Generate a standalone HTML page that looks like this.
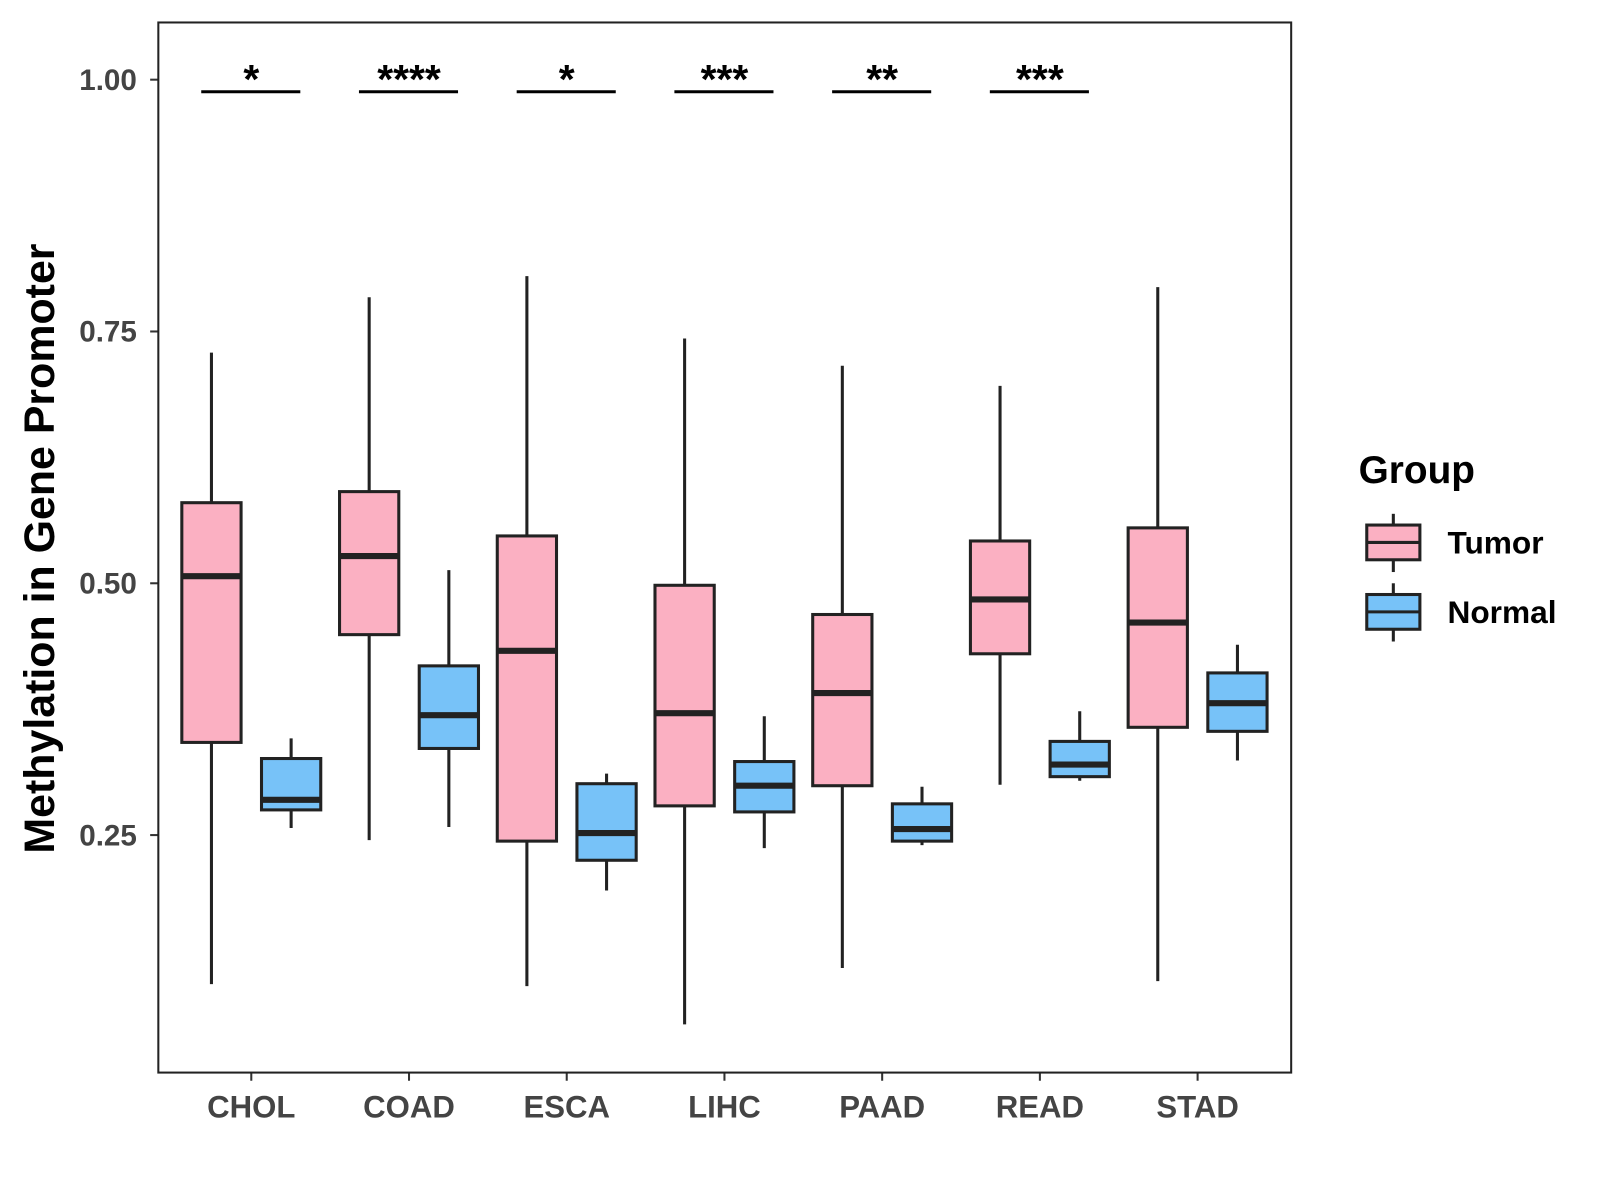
<!DOCTYPE html>
<html><head><meta charset="utf-8"><style>
html,body{margin:0;padding:0;background:#fff;}
svg{display:block;font-family:"Liberation Sans",Arial,sans-serif;}
</style></head><body>
<svg id="chart" width="1600" height="1200" viewBox="0 0 1600 1200">
<rect x="0" y="0" width="1600" height="1200" fill="#fff"/>
<g transform="scale(1.0215)">
<g id="plot"></g>
<rect x="155" y="22" width="1109" height="1028" fill="none" stroke="#222" stroke-width="2"/>
<text x="0" y="0" transform="translate(53,537) rotate(-90)" text-anchor="middle" font-size="42" font-weight="bold" fill="#000">Methylation in Gene Promoter</text>
<g>
<text x="1330" y="473" font-size="38" font-weight="bold" fill="#000">Group</text>
<g>
<line x1="1364" y1="503" x2="1364" y2="560" stroke="#222" stroke-width="3"/>
<rect x="1338" y="514" width="52" height="34" fill="#FBB0C2" stroke="#222" stroke-width="3"/>
<line x1="1338" y1="531" x2="1390" y2="531" stroke="#222" stroke-width="3"/>
<text x="1417" y="542" font-size="31" font-weight="bold" fill="#000">Tumor</text>
</g>
<g>
<line x1="1364" y1="571" x2="1364" y2="628" stroke="#222" stroke-width="3"/>
<rect x="1338" y="582" width="52" height="34" fill="#77C2F8" stroke="#222" stroke-width="3"/>
<line x1="1338" y1="599" x2="1390" y2="599" stroke="#222" stroke-width="3"/>
<text x="1417" y="610" font-size="31" font-weight="bold" fill="#000">Normal</text>
</g>
</g>
</g>
</svg>
<script>
const categories = ["CHOL","COAD","ESCA","LIHC","PAAD","READ","STAD"];
// [low, q1, median, q3, high]
const tumorStats = [
 [0.102,0.342,0.507,0.580,0.729],
 [0.245,0.449,0.527,0.591,0.784],
 [0.100,0.244,0.433,0.547,0.805],
 [0.062,0.279,0.371,0.498,0.743],
 [0.118,0.299,0.391,0.469,0.716],
 [0.300,0.430,0.484,0.542,0.696],
 [0.105,0.357,0.461,0.555,0.794]
];
const normalStats = [
 [0.257,0.275,0.285,0.326,0.346],
 [0.258,0.336,0.369,0.418,0.513],
 [0.195,0.225,0.252,0.301,0.311],
 [0.237,0.273,0.299,0.323,0.368],
 [0.240,0.244,0.256,0.281,0.298],
 [0.304,0.308,0.320,0.343,0.373],
 [0.324,0.353,0.381,0.411,0.439]
];
const sigLabels = ["*","****","*","***","**","***",""];
const sigLevel = 0.988;
const yTicks = [0.25,0.50,0.75,1.00];
const yTickLabels = ["0.25","0.50","0.75","1.00"];

const NS="http://www.w3.org/2000/svg";
const g=document.getElementById('plot');
function y(v){return 78+(1-v)*986;}
function xc(i){return 246+i*154.4;}
function mk(tag,attrs,parent){const e=document.createElementNS(NS,tag);for(const k in attrs)e.setAttribute(k,attrs[k]);(parent||g).appendChild(e);return e;}

yTicks.forEach((t,i)=>{
  const tk=mk('line',{x1:147,x2:155,y1:y(t),y2:y(t),stroke:'#333','stroke-width':2});
  
  
  const tx=mk('text',{x:134,y:y(t)+10,'text-anchor':'end','font-size':29,'font-weight':'bold',fill:'#444'});
  tx.textContent=yTickLabels[i];
  
  
});
categories.forEach((c,i)=>{
  const tk=mk('line',{x1:xc(i),x2:xc(i),y1:1050,y2:1058,stroke:'#333','stroke-width':2});
  
  
  const tx=mk('text',{x:xc(i),y:1094,'text-anchor':'middle','font-size':30.5,'font-weight':'bold',fill:'#444'});
  tx.textContent=c;
  
  
});
function box(cx,s,fill,name){
  const grp=mk('g',{});
  
  
  const w=58;
  mk('line',{x1:cx,x2:cx,y1:y(s[0]),y2:y(s[4]),stroke:'#222','stroke-width':3},grp);
  mk('rect',{x:cx-w/2,y:y(s[3]),width:w,height:y(s[1])-y(s[3]),fill:fill,stroke:'#222','stroke-width':3},grp);
  mk('line',{x1:cx-w/2,x2:cx+w/2,y1:y(s[2]),y2:y(s[2]),stroke:'#222','stroke-width':6},grp);
}
categories.forEach((c,i)=>{
  box(xc(i)-39,tumorStats[i],'#FBB0C2','box-tumor-'+c.toLowerCase());
  box(xc(i)+39,normalStats[i],'#77C2F8','box-normal-'+c.toLowerCase());
  if(sigLabels[i]){
    const ln=mk('line',{x1:xc(i)-49,x2:xc(i)+48,y1:y(sigLevel),y2:y(sigLevel),stroke:'#000','stroke-width':3});
    
    
    const tx=mk('text',{x:xc(i),y:y(sigLevel)+1,'text-anchor':'middle','font-size':40,'font-weight':'bold',fill:'#000'});
    tx.textContent=sigLabels[i];
    
    
  }
});
</script>
</body></html>
